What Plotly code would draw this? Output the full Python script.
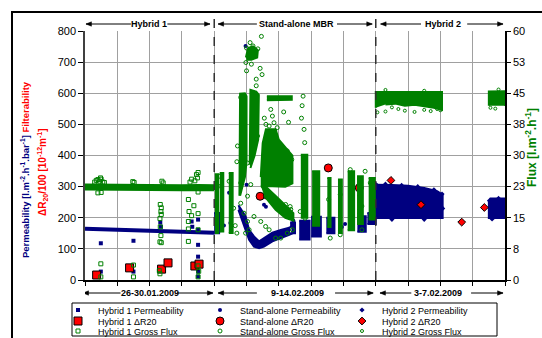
import plotly.graph_objects as go

NAVY = '#000080'
GREEN = '#008000'
RED = '#FF0000'

# ---------------- Hybrid 1 (26-30.01.2009) ----------------
h1_perm_band_x = [0, 0.5, 1, 1.5, 2, 2.5, 3, 3.5, 4]
h1_perm_band_y = [165, 164, 162, 160, 159, 157, 155, 154, 152]
h1_perm_x = [0.49, 0.49, 1.5, 1.5, 2.33, 2.35, 2.3, 3.3, 3.32, 3.5, 3.5, 3.5, 3.5, 3.5, 3.5]
h1_perm_y = [118, 27, 126, 27, 185, 171, 39, 188, 171, 194, 161, 113, 75, 27, 11]
h1_dr20_x = [0.36, 1.38, 2.37, 2.57, 3.40, 3.53]
h1_dr20_y = [16, 39, 35, 55, 45, 51]
h1_flux_band_x = [0, 0.5, 1, 1.5, 2, 2.5, 3, 3.5, 4]
h1_flux_band_y = [22.4, 22.3, 22.3, 22.2, 22.3, 22.2, 22.2, 22.3, 22.2]
h1_flux_x = [0.3, 0.35, 0.4, 0.45, 0.5, 0.55, 0.6, 0.4, 0.5, 0.48, 1.48, 1.52, 2.38, 2.42,
             3.25, 3.3, 3.4, 3.45, 3.5, 3.48, 3.5,
             0.49, 0.49, 1.5, 1.5,
             2.33, 2.36, 2.35, 2.36, 2.32, 2.33, 2.35, 2.32, 2.36, 2.3, 2.32,
             3.2, 3.37, 3.22, 3.3, 3.5, 3.2, 3.5, 3.2, 3.2, 3.5, 3.5, 3.52]
h1_flux_y = [23.6, 24.0, 24.2, 23.8, 24.3, 23.6, 23.5, 21.0, 21.1, 24.6, 23.7, 23.5, 23.8, 23.4,
             23.6, 24.3, 23.9, 25.4, 25.9, 24.6, 21.2,
             3.9, 0.75, 3.6, 0.75,
             18.2, 17.4, 16.5, 15.8, 14.8, 12.8, 10.7, 9.2, 9.0, 2.25, 1.5,
             19.4, 17.9, 16.5, 15.5, 16.0, 14.1, 12.1, 12.3, 9.3, 3.4, 0.75, 2.1]

# ---------------- Stand-alone MBR (9-14.02.2009) ----------------
# dense permeability regions (outline of the point clouds), None separates clouds
sa_perm_cloud_x = [4.75, 4.85, 4.97, 5.08, 5.23, 5.39, 5.54, 5.8, 6.06, 6.32, 6.42, 6.42, 6.32, 6.06, 5.8,
                   5.54, 5.39, 5.23, 5.08, 4.97, 4.85, 4.75, None,
                   4.0, 4.15, 4.15, 4.0, None,
                   6.35, 6.5, 6.5, 6.35, None,
                   6.63, 6.95, 6.95, 6.63, None,
                   7.0, 7.3, 7.3, 7.0, None,
                   7.47, 7.72, 7.72, 7.47, None,
                   8.43, 8.69, 8.69, 8.43, None,
                   8.74, 9.0, 9.0, 8.74]
sa_perm_cloud_y = [240, 225, 204, 161, 140, 124, 135, 152, 161, 168, 175, 150, 145, 135, 124,
                   107, 102, 107, 129, 161, 200, 225, None,
                   150, 150, 215, 215, None,
                   150, 150, 185, 185, None,
                   130, 130, 190, 190, None,
                   140, 140, 203, 203, None,
                   150, 150, 200, 200, None,
                   155, 155, 205, 205, None,
                   180, 180, 215, 215]
sa_perm_x = [4.97, 4.46, 5.0, 5.54, 4.52, 4.5, 4.3, 4.2, 5.6, 6.45, 7.95, 8.05]
sa_perm_y = [752, 280, 306, 242, 242, 183, 175, 160, 235, 190, 170, 180]
sa_dr20_x = [5.42, 5.645, 7.53, 8.49]
sa_dr20_y = [269, 272, 360, 296]
sa_flux_cloud_x = [4.02, 4.12, 4.12, 4.02, None,
                   4.17, 4.28, 4.28, 4.17, None,
                   4.45, 4.57, 4.57, 4.45, None,
                   4.78, 4.8, 4.95, 5.0, 5.0, 4.95, 4.8, None,
                   5.1, 5.12, 5.3, 5.38, 5.36, 5.25, 5.12, None,
                   4.98, 5.05, 5.2, 5.35, 5.33, 5.15, 5.0, None,
                   5.63, 6.4, 6.4, 5.63, None,
                   5.44, 5.5, 5.6, 5.9, 6.0, 6.25, 6.42, 6.42, 6.2, 5.8, 5.44, None,
                   5.45, 5.6, 6.0, 6.3, 6.45, 6.45, 6.2, 5.9, 5.55, None,
                   6.68, 6.88, 6.88, 6.68, None,
                   7.03, 7.25, 7.25, 7.03, None,
                   7.5, 7.6, 7.6, 7.5, None,
                   7.83, 7.95, 7.95, 7.83, None,
                   8.13, 8.33, 8.33, 8.13, None,
                   8.42, 8.6, 8.6, 8.42, None,
                   8.78, 8.97, 8.97, 8.78]
sa_flux_cloud_y = [11.3, 11.3, 25.5, 25.5, None,
                   11.7, 11.7, 25.8, 25.8, None,
                   11.3, 11.3, 25.8, 25.8, None,
                   20.3, 44.9, 45.0, 44.3, 28.5, 24.8, 20.3, None,
                   27.8, 45.8, 45.4, 44.6, 33.8, 30.0, 27.0, None,
                   53.6, 55.9, 56.3, 55.4, 53.6, 53.1, 53.1, None,
                   43.3, 43.4, 44.3, 44.3, None,
                   24.8, 33.0, 36.3, 36.3, 33.8, 31.5, 30.0, 23.3, 22.5, 22.6, 22.6, None,
                   22.5, 22.5, 19.5, 17.3, 16.1, 14.3, 15.0, 16.9, 20.3, None,
                   15.0, 15.0, 30.2, 30.2, None,
                   13.1, 13.1, 26.2, 26.2, None,
                   12.8, 12.8, 24.6, 24.6, None,
                   11.3, 11.3, 24.2, 24.2, None,
                   12.0, 12.0, 26.2, 26.2, None,
                   13.5, 13.5, 25.0, 25.0, None,
                   14.6, 14.6, 24.6, 24.6]
sa_flux_x = [5.46, 5.11, 5.0, 5.35, 5.2, 4.98, 5.0, 5.3, 5.3, 4.82, 5.75, 5.8, 5.85, 5.7, 5.95,
             5.34, 5.23, 6.0, 6.26, 6.32, 6.26, 5.03, 4.92, 4.87, 4.82, 5.13, 5.03, 4.82, 4.92,
             5.03, 5.08, 4.97, 5.23, 5.44, 5.59, 5.7, 5.9, 6.06, 6.26, 6.42, 6.06, 6.21, 6.37,
             4.15, 4.2, 4.46, 6.75, 6.72, 6.78, 6.8, 6.7, 6.4, 6.35, 6.35, 6.66, 6.81, 7.54,
             7.9, 8.26, 8.57, 8.93, 8.83, 8.26, 7.9, 7.59, 8.57, 8.67, 8.21, 4.72, 4.7, 4.9,
             5.55, 5.6, 4.6, 4.65, 4.7, 5.42, 5.48, 5.15, 6.15, 6.3]
sa_flux_y = [58.7, 57.2, 55.9, 55.7, 56.4, 52.4, 50.4, 48.4, 46.8, 44.0, 41.1, 39.5, 37.9, 37.1, 36.7,
             34.7, 32.3, 31.4, 31.1, 29.5, 27.5, 28.2, 29.9, 25.8, 23.4, 23.0, 20.2, 18.5, 16.1,
             14.1, 12.1, 11.3, 15.3, 14.1, 12.9, 12.1, 10.1, 10.1, 11.3, 12.1, 17.8, 18.2, 17.0,
             25.0, 22.6, 23.8, 44.3, 42.0, 36.3, 33.1, 39.0, 29.0, 24.2, 17.7, 16.5, 14.9, 19.4,
             20.6, 19.4, 17.8, 19.4, 23.4, 23.8, 10.9, 10.1, 12.1, 26.2, 26.6, 32.3, 28.5, 35.3,
             39.0, 37.5, 17.3, 13.1, 11.3, 51.0, 49.5, 52.0, 40.5, 38.0]

# ---------------- Hybrid 2 (3-7.02.2009) ----------------
h2_perm_cloud_x = [9.0, 9.0, 9.5, 10.0, 10.5, 10.9, 11.07, 11.07, None,
                   12.5, 12.5, 12.55, 13.0, 13.0]
h2_perm_cloud_y = [196, 306, 305, 303, 296, 285, 274, 196, None,
                   196, 250, 262, 262, 196]
h2_perm_x = [9.02, 9.3, 9.8, 10.3, 10.8, 11.05, 11.07, 9.5, 10.5, 12.52, 12.8, 12.6]
h2_perm_y = [306, 308, 304, 300, 290, 276, 230, 195, 195, 255, 262, 196]
h2_dr20_x = [9.47, 10.4, 11.66, 12.36]
h2_dr20_y = [320, 242, 186, 233]
h2_flux_cloud_x = [9.0, 9.0, 11.05, 11.05, 10.8, 10.5, 10.2, 9.9, 9.6, 9.3, None,
                   12.5, 12.5, 13.0, 13.0]
h2_flux_cloud_y = [41.5, 45.3, 45.3, 41.0, 41.5, 41.8, 42.2, 42.0, 42.5, 42.3, None,
                   42.0, 45.4, 45.5, 42.0]
h2_flux_x = [9.05, 9.3, 9.9, 10.2, 10.5, 10.7, 10.9, 11.0, 12.55, 12.7, 9.5, 9.7, 9.3, 10.5, 12.8]
h2_flux_y = [40.4, 40.6, 40.8, 40.5, 41.0, 40.7, 41.2, 40.9, 41.5, 41.3, 41.6, 41.2, 45.8, 45.6, 45.9]

right_tickvals = [0, 7.5, 15, 22.5, 30, 37.5, 45, 52.5, 60]
right_ticktext = ['0', '8', '15', '23', '30', '38', '45', '53', '60']

fig = go.Figure()

def cloud(x, y, color, yaxis='y', group=None):
    fig.add_trace(go.Scatter(x=x, y=y, mode='lines', fill='toself', fillcolor=color,
                             line=dict(color=color, width=2), yaxis=yaxis, showlegend=False,
                             hoverinfo='skip', legendgroup=group))

def band(x, y, color, width, yaxis='y', group=None):
    fig.add_trace(go.Scatter(x=x, y=y, mode='lines', line=dict(color=color, width=width),
                             yaxis=yaxis, showlegend=False, hoverinfo='skip', legendgroup=group))

def pts(x, y, name, symbol, color, size, legend, yaxis='y', open_=False, border=False, group=None):
    if open_:
        marker = dict(symbol=symbol, size=size, color=color, line=dict(color=color, width=1))
    elif border:
        marker = dict(symbol=symbol, size=size, color=color, line=dict(color='black', width=1))
    else:
        marker = dict(symbol=symbol, size=size, color=color, line=dict(width=0))
    fig.add_trace(go.Scatter(x=x, y=y, mode='markers', name=name, marker=marker, yaxis=yaxis,
                             legend=legend, legendgroup=group))

# permeability
band(h1_perm_band_x, h1_perm_band_y, NAVY, 4, group='h1p')
cloud(sa_perm_cloud_x, sa_perm_cloud_y, NAVY, group='sap')
cloud(h2_perm_cloud_x, h2_perm_cloud_y, NAVY, group='h2p')
pts(h1_perm_x, h1_perm_y, 'Hybrid 1 Permeability', 'square', NAVY, 4, 'legend', group='h1p')
pts(sa_perm_x, sa_perm_y, 'Stand-alone Permeability', 'circle', NAVY, 4, 'legend', group='sap')
pts(h2_perm_x, h2_perm_y, 'Hybrid 2 Permeability', 'diamond', NAVY, 4, 'legend', group='h2p')
# flux
band(h1_flux_band_x, h1_flux_band_y, GREEN, 7, yaxis='y2', group='h1f')
cloud(sa_flux_cloud_x, sa_flux_cloud_y, GREEN, yaxis='y2', group='saf')
cloud(h2_flux_cloud_x, h2_flux_cloud_y, GREEN, yaxis='y2', group='h2f')
pts(h1_flux_x, h1_flux_y, 'Hybrid 1 Gross Flux', 'square-open', GREEN, 4, 'legend3', yaxis='y2', open_=True, group='h1f')
pts(sa_flux_x, sa_flux_y, 'Stand-alone Gross Flux', 'circle-open', GREEN, 4, 'legend3', yaxis='y2', open_=True, group='saf')
pts(h2_flux_x, h2_flux_y, 'Hybrid 2 Gross Flux', 'circle-open', GREEN, 3, 'legend3', yaxis='y2', open_=True, group='h2f')
# filterability
pts(h1_dr20_x, h1_dr20_y, 'Hybrid 1 \u0394R20', 'square', RED, 8, 'legend2', border=True)
pts(sa_dr20_x, sa_dr20_y, 'Stand-alone \u0394R20', 'circle', RED, 8, 'legend2', border=True)
pts(h2_dr20_x, h2_dr20_y, 'Hybrid 2 \u0394R20', 'diamond', RED, 6, 'legend2', border=True)

FONT = 'Arial, "Liberation Sans", sans-serif'

def leg(ypx):
    return dict(orientation='h', x=(58 - 85) / 420, y=(280 - ypx) / 249, xanchor='left',
                yanchor='middle', entrywidth=97, entrywidthmode='pixels', itemwidth=30,
                font=dict(family=FONT, size=9, color='black'), bgcolor='rgba(0,0,0,0)',
                borderwidth=0, itemclick=False, itemdoubleclick=False)

annotations = []
shapes = []

def arrow(tip, tail, yp):
    shapes.append(dict(type='line', xref='x', yref='paper', x0=tail, x1=tip, y0=yp, y1=yp,
                       line=dict(color='black', width=1)))
    d = 1 if tip > tail else -1
    hx = 0.17 * d
    hh = 2.2 / 249
    path = 'M %f,%f L %f,%f L %f,%f Z' % (tip, yp, tip - hx, yp + hh, tip - hx, yp - hh)
    shapes.append(dict(type='path', xref='x', yref='paper', path=path, fillcolor='black',
                       line=dict(color='black', width=0.5)))

def span_label(text, xc, l_tip, l_tail, r_tail, r_tip, yp):
    annotations.append(dict(text='<b>%s</b>' % text, x=xc, y=yp, xref='x', yref='paper',
                            showarrow=False, xanchor='center', yanchor='middle',
                            font=dict(family=FONT, size=9, color='black')))
    arrow(l_tip, l_tail, yp)
    arrow(r_tip, r_tail, yp)

ytop = (280 - 24) / 249
ybot = (280 - 293) / 249
span_label('Hybrid 1', 1.97, 0.03, 1.42, 2.55, 3.87, ytop)
span_label('Stand-alone MBR', 6.56, 4.12, 5.32, 7.8, 8.89, ytop)
span_label('Hybrid 2', 11.08, 9.15, 10.4, 11.83, 12.94, ytop)
span_label('26-30.01.2009', 2.0, -0.06, 1.1, 2.85, 3.96, ybot)
span_label('9-14.02.2009', 6.58, 4.12, 5.32, 7.74, 8.92, ybot)
span_label('3-7.02.2009', 10.93, 9.13, 10.1, 11.95, 12.94, ybot)

annotations.append(dict(
    text="<b><span style='color:#000080'>Permeability [l.m<sup>-2</sup>.h<sup>-1</sup>.bar<sup>-1</sup>]</span> "
         "<span style='color:#FF0000'>Filterability</span></b>",
    x=(25 - 85) / 420, y=(280 - 170) / 249, xref='paper', yref='paper', textangle=-90,
    showarrow=False, xanchor='center', yanchor='middle', font=dict(family=FONT, size=9.5)))
annotations.append(dict(
    text="<b>\u0394R<sub>20</sub>/100 [10<sup>-12</sup>m<sup>-1</sup>]</b>",
    x=(43 - 85) / 420, y=(280 - 172) / 249, xref='paper', yref='paper', textangle=-90,
    showarrow=False, xanchor='center', yanchor='middle', font=dict(family=FONT, size=10, color=RED)))
annotations.append(dict(
    text="<b>Flux [l.m<sup>-2</sup>.h<sup>-1</sup>]</b>",
    x=(531 - 85) / 420, y=(280 - 148) / 249, xref='paper', yref='paper', textangle=-90,
    showarrow=False, xanchor='center', yanchor='middle', font=dict(family=FONT, size=12, color=GREEN)))

shapes.append(dict(type='rect', xref='paper', yref='paper', x0=(12 - 85) / 420, x1=1.25, y0=-0.35,
                   y1=(280 - 12) / 249, line=dict(color='black', width=2)))
shapes.append(dict(type='rect', xref='paper', yref='paper', x0=(72 - 85) / 420, x1=(497 - 85) / 420,
                   y0=(280 - 336) / 249, y1=(280 - 303) / 249, line=dict(color='black', width=1)))
for xd in [4, 9]:
    shapes.append(dict(type='line', xref='x', yref='paper', x0=xd, x1=xd, y0=0, y1=(280 - 13) / 249,
                       line=dict(color='#303030', width=1.5, dash='dash')))

fig.update_layout(
    width=542, height=338,
    margin=dict(l=85, r=37, t=31, b=58, autoexpand=False),
    paper_bgcolor='white', plot_bgcolor='white',
    font=dict(family=FONT, size=11, color='black'),
    showlegend=True,
    legend=leg(310), legend2=leg(321), legend3=leg(331),
    xaxis=dict(range=[0, 13], tick0=0, dtick=1, showgrid=True, gridcolor='#A0A0A0', gridwidth=1,
               showticklabels=False, ticks='outside', ticklen=4, tickcolor='black',
               showline=True, linecolor='black', linewidth=1.5, zeroline=False, fixedrange=True),
    yaxis=dict(range=[0, 800], tick0=0, dtick=100, showgrid=True, gridcolor='#A0A0A0', gridwidth=1,
               ticks='outside', ticklen=5, tickcolor='black', showline=True, linecolor='#404040',
               linewidth=1.5, zeroline=False, tickfont=dict(size=11, color='black'), fixedrange=True),
    yaxis2=dict(range=[0, 60], overlaying='y', side='right', tickvals=right_tickvals,
                ticktext=right_ticktext, showgrid=False, ticks='outside', ticklen=4,
                tickcolor='black', showline=True, linecolor='black', linewidth=1.5,
                zeroline=False, tickfont=dict(size=11, color='black'), fixedrange=True),
    annotations=annotations,
    shapes=shapes,
)

fig.write_html('out.html', config={'displayModeBar': False},
               post_script="document.body.style.margin='0';")
